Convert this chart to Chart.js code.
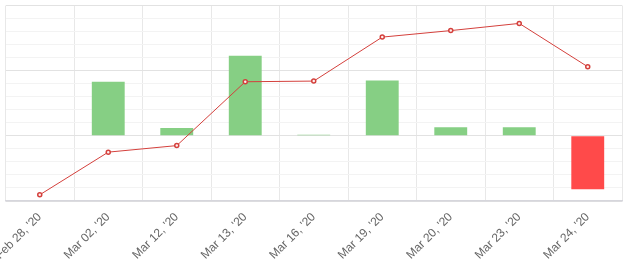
<!DOCTYPE html>
<html>
<head>
<meta charset="utf-8">
<script src="https://cdn.jsdelivr.net/npm/chart.js@4/dist/chart.umd.min.js"></script>
<style>
html,body{margin:0;padding:0;background:#fff;}
#wrap{width:628px;height:266px;position:relative;}
</style>
</head>
<body>
<div id="wrap"><canvas id="c"></canvas></div>
<script>
const categories = ["Feb 28, '20", "Mar 02, '20", "Mar 12, '20", "Mar 13, '20", "Mar 16, '20", "Mar 19, '20", "Mar 20, '20", "Mar 23, '20", "Mar 24, '20"];
const changeValues = [0, 0.83, 0.12, 1.23, 0.015, 0.85, 0.13, 0.13, -0.82];
const trendValues = [-0.905, -0.25, -0.15, 0.83, 0.84, 1.515, 1.615, 1.725, 1.06];
const yMin = -1, yMax = 2, yStep = 0.2;

const green = '#86cf84';
const red = '#ff4a4a';
const lineRed = '#d4403c';

new Chart(document.getElementById('c'), {
  data: {
    labels: categories,
    datasets: [
      {
        type: 'line',
        data: trendValues,
        borderColor: lineRed,
        borderWidth: 1,
        pointRadius: 2,
        pointBorderWidth: 1.5,
        pointBackgroundColor: '#fff0f0',
        pointBorderColor: lineRed,
        tension: 0,
        order: 0
      },
      {
        type: 'bar',
        data: changeValues,
        backgroundColor: changeValues.map(v => v < 0 ? red : green),
        borderWidth: 0,
        barPercentage: 0.6,
        categoryPercentage: 0.8,
        order: 1
      }
    ]
  },
  options: {
    responsive: true,
    maintainAspectRatio: false,
    animation: false,
    layout: { padding: { top: 4, left: 3, right: 6, bottom: 0 } },
    plugins: { legend: { display: false }, tooltip: { enabled: false } },
    scales: {
      x: {
        grid: { color: '#e8e8e8', offset: true, drawTicks: false },
        border: { color: '#d6d6dc', width: 1.5 },
        ticks: {
          minRotation: 45, maxRotation: 45, padding: 9,
          color: '#666', font: { family: 'Liberation Sans, Arial, sans-serif', size: 12 }
        },
        afterFit: (s) => { s.paddingLeft = 0; s.paddingRight = 0; s.height = 65; }
      },
      y: {
        min: yMin, max: yMax,
        ticks: { display: false, stepSize: yStep },
        border: { display: false },
        grid: {
          drawTicks: false,
          color: (ctx) => {
            const v = ctx.tick ? ctx.tick.value : 0;
            return Math.abs(v - Math.round(v)) < 1e-6 ? '#e2e2e2' : '#f3f3f3';
          }
        }
      }
    }
  }
});
</script>
</body>
</html>
